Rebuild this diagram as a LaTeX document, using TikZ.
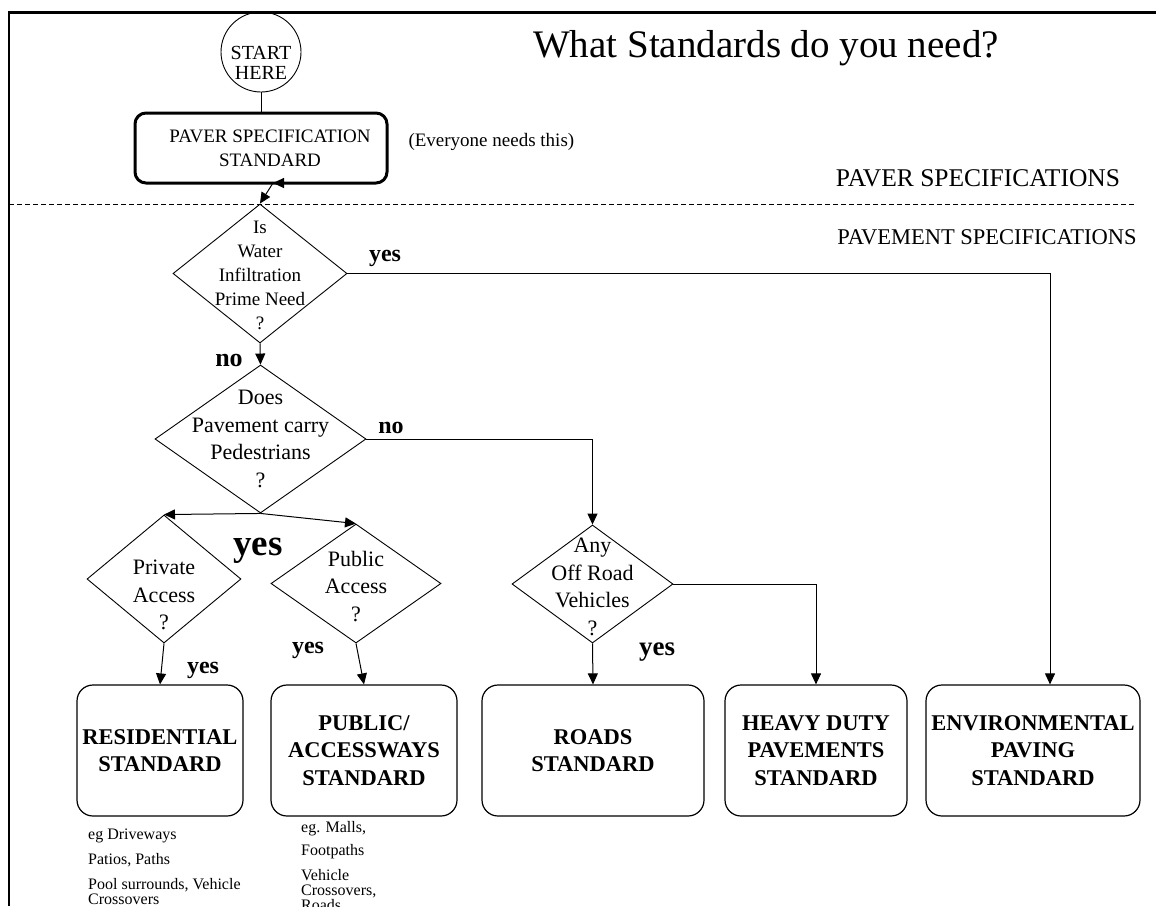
\documentclass[tikz,border=0pt]{standalone}
\usepackage{fontspec}
\setmainfont{Liberation Serif}
\usetikzlibrary{shapes,arrows.meta,positioning,calc}

\begin{document}
\begin{tikzpicture}[x=1pt,y=-1pt,
  decision/.style={diamond,draw,line width=0.9pt,inner sep=0pt},
  qtext/.style={align=center,font=\fontsize{22}{27.5}\selectfont},
  stdbox/.style={rectangle,rounded corners=16pt,draw,line width=1.2pt,align=center,
    minimum height=131pt,font=\fontsize{22.5}{27.5}\selectfont\bfseries},
  ans/.style={font=\fontsize{24}{24}\selectfont\bfseries},
  flow/.style={line width=1pt,-{Triangle[length=11pt,width=10pt]}},
  note/.style={anchor=north west,align=left,inner sep=0pt,font=\fontsize{16}{15}\selectfont}]
  \useasboundingbox (0,0) rectangle (1156,906);
  \clip (0,0) rectangle (1156,906);
  % page frame
  \draw[line width=2.5pt] (1156,12.5) -- (9,12.5) -- (9,906);
  \node[font=\fontsize{39}{39}\selectfont] (title) at (766,48) {What Standards do you need?};

  \node[circle,draw,line width=0.9pt,minimum size=80pt,inner sep=0pt,
    label={[align=center,font=\fontsize{20}{20}\selectfont,yshift=-11pt]center:START\\HERE}] (start) at (261,52) {};
  \node[rectangle,rounded corners=11pt,draw,line width=3pt,minimum width=252pt,minimum height=70pt,
    label={[align=center,font=\fontsize{19}{24}\selectfont,xshift=9pt]center:PAVER SPECIFICATION\\STANDARD}] (paver) at (261,148) {};
  \node[anchor=west,font=\fontsize{19}{19}\selectfont] (everyone) at (405,142) {(Everyone needs this)};
  \coordinate (pv) at (273,183);

  \node[font=\fontsize{25.5}{25.5}\selectfont] (paverspec) at (978,178) {PAVER SPECIFICATIONS};
  \draw[line width=0.8pt,dash pattern=on 5pt off 3pt] (9,204) -- (1135,204);
  \node[font=\fontsize{22.5}{22.5}\selectfont] (pavespec) at (987,237) {PAVEMENT SPECIFICATIONS};

  % questions
  \node[decision,minimum width=174pt,minimum height=139pt,
    label={[qtext,font=\fontsize{19}{24}\selectfont,yshift=-2pt]center:Is\\Water\\Infiltration\\Prime Need\\?}] (water) at (260,273.5) {};
  \node[decision,minimum width=211pt,minimum height=148pt,
    label={[qtext]center:Does\\Pavement carry\\Pedestrians\\?}] (peds) at (260.5,439) {};
  \node[decision,minimum width=154pt,minimum height=128pt,
    label={[qtext,yshift=-16pt]center:Private\\Access\\?}] (priv) at (164,579) {};
  \node[decision,minimum width=170pt,minimum height=119pt,
    label={[qtext,yshift=-3pt]center:Public\\Access\\?}] (pub) at (356,583.5) {};
  \node[decision,minimum width=161pt,minimum height=118pt,
    label={[qtext,yshift=-3pt]center:Any\\Off Road\\Vehicles\\?}] (offroad) at (592.5,584) {};

  % standards
  \node[stdbox,minimum width=166pt] (res) at (160,750.5) {RESIDENTIAL\\STANDARD};
  \node[stdbox,minimum width=186pt] (pubbox) at (364,750.5) {PUBLIC/\\ACCESSWAYS\\STANDARD};
  \node[stdbox,minimum width=222pt] (roads) at (593,750.5) {ROADS\\STANDARD};
  \node[stdbox,minimum width=182pt] (heavy) at (816,750.5) {HEAVY DUTY\\PAVEMENTS\\STANDARD};
  \node[stdbox,minimum width=214pt] (env) at (1033,750.5) {ENVIRONMENTAL\\PAVING\\STANDARD};

  \node[note] (resnote) at (88,829) {eg Driveways\\[10pt]Patios, Paths\\[10pt]Pool surrounds, Vehicle\\Crossovers};
  \node[note] (pubnote) at (301,821) {eg. Malls,\\[8pt]Footpaths\\[10pt]Vehicle\\Crossovers,\\Roads};

  % connectors
  \draw[line width=0.9pt] (start) -- (paver);
  \draw[line width=1pt,{Triangle[length=11pt,width=10pt]}-] (pv) -- +(12,0);
  \draw[flow] (pv) -- (water.north);
  \draw[flow] (water.east) -| ($(env.north)+(17,0)$);
  \draw[flow] (water.south) -- (peds.north);
  \draw[flow] (peds.east) -| (offroad.north);
  \draw[flow] (peds.south) -- (priv.north);
  \draw[flow] (peds.south) -- (pub.north);
  \draw[flow] (priv.south) -- (res.north);
  \draw[flow] (pub.south) -- (pubbox.north);
  \draw[flow] (offroad.south) -- (roads.north);
  \draw[flow] (offroad.east) -| (heavy.north);

  \node[ans] (yes1) at (385,258) {yes};
  \node[ans,font=\fontsize{26}{26}\selectfont\bfseries] (no1) at (229,360) {no};
  \node[ans] (no2) at (391,428) {no};
  \node[ans,font=\fontsize{37}{37}\selectfont\bfseries] (yes2) at (258,551) {yes};
  \node[ans] (yes3) at (203,670) {yes};
  \node[ans] (yes4) at (308,650) {yes};
  \node[ans,font=\fontsize{27}{27}\selectfont\bfseries] (yes5) at (657,652) {yes};
\end{tikzpicture}
\end{document}
